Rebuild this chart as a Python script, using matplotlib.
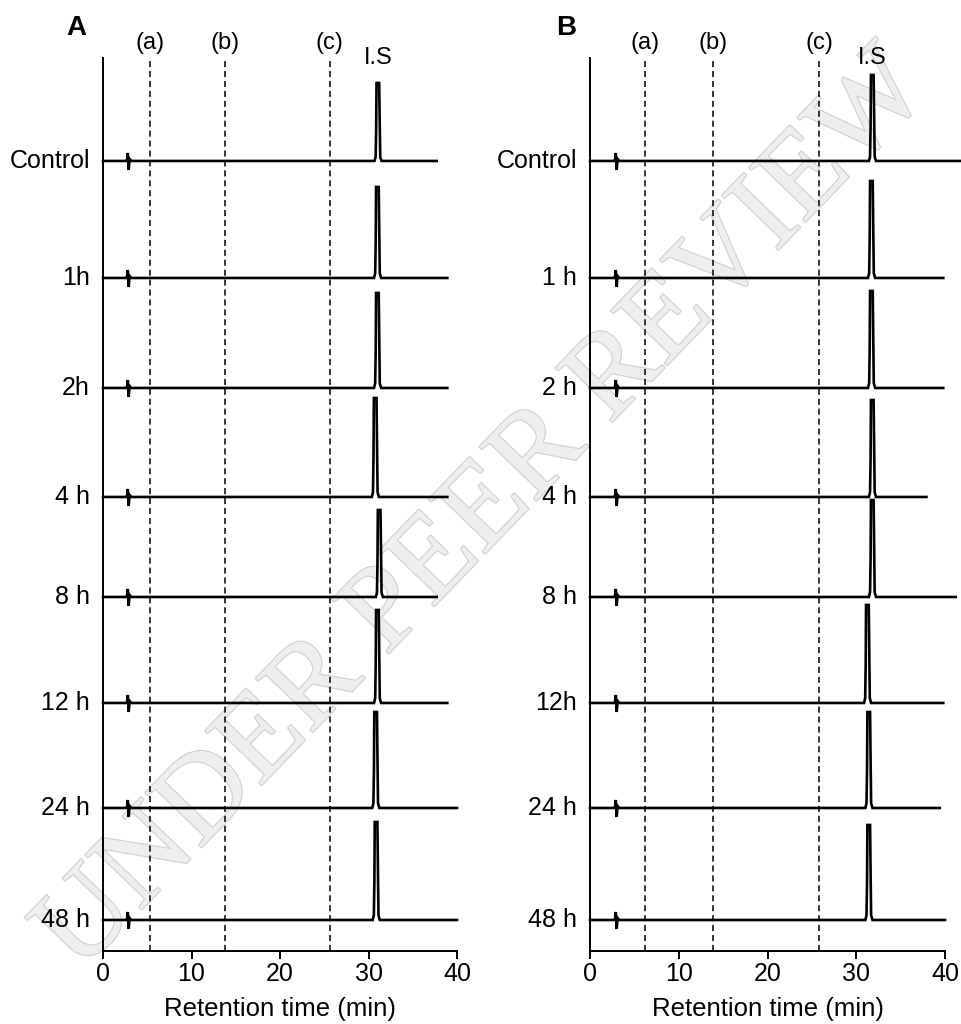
import numpy as np
import matplotlib.pyplot as plt
import matplotlib.transforms as mtransforms
import matplotlib.patheffects as pe

plt.rcParams['font.family'] = ['Liberation Sans', 'DejaVu Sans']

# Sample labels (top to bottom)
labels_a = ['Control', '1h', '2h', '4 h', '8 h', '12 h', '24 h', '48 h']
labels_b = ['Control', '1 h', '2 h', '4 h', '8 h', '12h', '24 h', '48 h']

# I.S peak retention time (min), peak height (a.u.), end of recorded run (min)
is_time_a = [31.05, 31.0, 31.0, 30.75, 31.2, 31.0, 30.8, 30.85]
is_height_a = [78, 91, 95, 99, 87, 93, 96, 98]
run_end_a = [37.7, 38.9, 38.9, 38.9, 37.7, 38.9, 40.0, 40.0]

is_time_b = [31.8, 31.7, 31.7, 31.8, 31.8, 31.25, 31.4, 31.4]
is_height_b = [86, 97, 97, 97, 97, 98, 96, 95]
run_end_b = [41.7, 39.8, 39.8, 37.9, 41.2, 39.8, 39.4, 40.0]

# solvent front blip near 2.8 min
blip_t = [2.55, 2.7, 2.8, 2.9, 3.0, 3.2]
blip_y = [0, 0, 8, -9, 2, 0]

# I.S peak outline (time offset from apex, fraction of height)
peak_dt = [-0.38, -0.25, -0.19, -0.15, 0.15, 0.2, 0.27, 0.42]
peak_frac = [0, 0.05, 0.4, 1, 1, 0.6, 0.05, 0]

# marker lines for metabolites (a), (b), (c)
marks_a = [5.3, 13.8, 25.6]
marks_b = [6.2, 13.9, 25.8]
mark_names = ['(a)', '(b)', '(c)']

# vertical stacking of the traces (layout)
offsets = [790, 673, 563, 454, 354, 248, 143, 31]


def trace(t_is, h_is, t_end, blip_shift):
    t = [0.0] + [b + blip_shift for b in blip_t]
    y = [0.0] + list(blip_y)
    t += [t_is + d for d in peak_dt]
    y += [h_is * f for f in peak_frac]
    t.append(t_end)
    y.append(0.0)
    return np.array(t), np.array(y)


fig = plt.figure(figsize=(9.61, 10.24), dpi=100)
axA = fig.add_axes([0.1072, 0.0713, 0.3684, 0.8721])
axB = fig.add_axes([0.614, 0.0713, 0.3694, 0.8721])

panels = [
    (axA, labels_a, is_time_a, is_height_a, run_end_a, marks_a, 0.0),
    (axB, labels_b, is_time_b, is_height_b, run_end_b, marks_b, 0.1),
]

for ax, labels, ts, hs, ends, marks, shift in panels:
    ax.set_facecolor('none')
    ax.set_xlim(0, 40)
    ax.set_ylim(0, 893)
    blend = mtransforms.blended_transform_factory(ax.transAxes, ax.transData)
    blend_x = mtransforms.blended_transform_factory(ax.transData, ax.transAxes)

    for lab, t_is, h_is, t_end, off in zip(labels, ts, hs, ends, offsets):
        t, y = trace(t_is, h_is, t_end, shift)
        ax.plot(t, y + off, color='black', lw=1.9, clip_on=False,
                solid_joinstyle='miter')
        ax.text(-0.037, off, lab, transform=blend, ha='right', va='center',
                fontsize=18)

    for m, name in zip(marks, mark_names):
        ax.axvline(m, color='black', lw=1.1, ls=(0, (4, 2.5)))
        ax.text(m, 1.017, name, transform=blend_x, ha='center', va='center',
                fontsize=17)
    ax.text(ts[0], 1.0, 'I.S', transform=blend_x, ha='center', va='center',
            fontsize=17)

    ax.set_xticks([0, 10, 20, 30, 40])
    ax.set_yticks([])
    ax.tick_params(axis='x', direction='out', length=6, width=1.4,
                   labelsize=18, pad=2)
    for s in ('top', 'right'):
        ax.spines[s].set_visible(False)
    for s in ('left', 'bottom'):
        ax.spines[s].set_linewidth(1.4)
    ax.set_xlabel('Retention time (min)', fontsize=18.5, labelpad=8)

fig.text(76 / 961, 1 - 28 / 1024, 'A', fontsize=20, fontweight='bold',
         ha='center', va='center')
fig.text(566 / 961, 1 - 28 / 1024, 'B', fontsize=20, fontweight='bold',
         ha='center', va='center')

# watermark
wm = fig.text(0.505, 0.5, 'UNDER PEER REVIEW', fontsize=86,
              family=['Liberation Serif', 'DejaVu Serif'], rotation=46,
              ha='center', va='center', color='#eeeeee', zorder=-1)
wm.set_path_effects([pe.Stroke(linewidth=1.6, foreground='#d0d0d0'),
                     pe.Normal()])

fig.savefig('out.png', dpi=100)
